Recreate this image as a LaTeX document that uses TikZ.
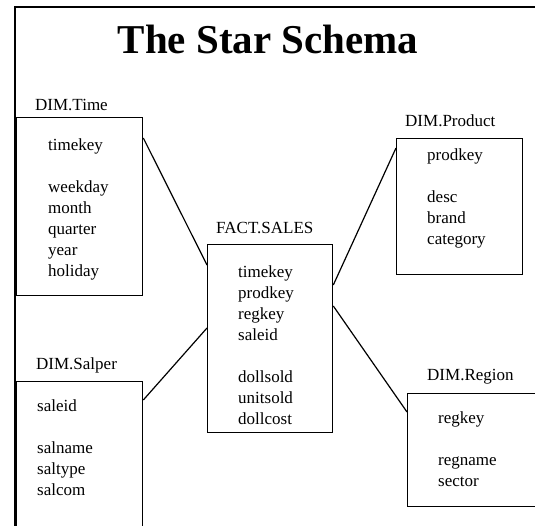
\documentclass[tikz,border=0pt]{standalone}
\usepackage{fontspec}
\setmainfont{Liberation Serif}
\usepackage{tikz}

\tikzset{
    tablebox/.style={draw, line width=1.3pt, anchor=north west, inner sep=0pt},
    fields/.style={anchor=base west, align=left, inner sep=0pt, font=\fontsize{17}{21}\selectfont},
    tablename/.style={anchor=base west, inner sep=0pt, font=\fontsize{17}{21}\selectfont}
}

\begin{document}
\begin{tikzpicture}[x=1pt, y=-1pt]
        \useasboundingbox (0,0) rectangle (535,525);
        \clip (0,0) rectangle (535,525);

        \draw[line width=2pt] (15,530) -- (15,7) -- (540,7);

        \node[anchor=base, inner sep=0pt, font=\fontsize{41}{45}\selectfont\bfseries] (title) at (268,53) {The Star Schema};

        \node[tablebox, minimum width=126pt, minimum height=178pt] (DIM_Time) at (16,117) {};
        \node[tablebox, minimum width=125pt, minimum height=188pt] (FACT_SALES) at (207,244) {};
        \node[tablebox, minimum width=126pt, minimum height=136pt] (DIM_Product) at (396,138) {};
        \node[tablebox, minimum width=160pt, minimum height=113pt] (DIM_Region) at (407,393) {};
        \node[tablebox, minimum width=126pt, minimum height=200pt] (DIM_Salper) at (16,381) {};

        \node[tablename] (DIM_Time_name) at ([xshift=19pt, yshift=7pt]DIM_Time.north west) {DIM.Time};
        \node[tablename] (FACT_SALES_name) at ([xshift=9pt, yshift=11pt]FACT_SALES.north west) {FACT.SALES};
        \node[tablename] (DIM_Product_name) at ([xshift=9pt, yshift=12pt]DIM_Product.north west) {DIM.Product};
        \node[tablename] (DIM_Region_name) at ([xshift=20pt, yshift=13pt]DIM_Region.north west) {DIM.Region};
        \node[tablename] (DIM_Salper_name) at ([xshift=20pt, yshift=12pt]DIM_Salper.north west) {DIM.Salper};

        \node[fields] (DIM_Time_fields) at ([xshift=32pt, yshift=-159pt]DIM_Time.north west)
            {timekey\\[21pt]weekday\\month\\quarter\\year\\holiday};
        \node[fields] (FACT_SALES_fields) at ([xshift=31pt, yshift=-180pt]FACT_SALES.north west)
            {timekey\\prodkey\\regkey\\saleid\\[21pt]dollsold\\unitsold\\dollcost};
        \node[fields] (DIM_Product_fields) at ([xshift=31pt, yshift=-106pt]DIM_Product.north west)
            {prodkey\\[21pt]desc\\brand\\category};
        \node[fields] (DIM_Region_fields) at ([xshift=31pt, yshift=-93pt]DIM_Region.north west)
            {regkey\\[21pt]regname\\sector};
        \node[fields] (DIM_Salper_fields) at ([xshift=21pt, yshift=-114pt]DIM_Salper.north west)
            {saleid\\[21pt]salname\\saltype\\salcom};

        \draw[line width=1.2pt] ([yshift=-21pt]DIM_Time.north east) -- ([yshift=-21pt]FACT_SALES.north west);
        \draw[line width=1.2pt] ([yshift=-41pt]FACT_SALES.north east) -- ([yshift=-10pt]DIM_Product.north west);
        \draw[line width=1.2pt] ([yshift=-62pt]FACT_SALES.north east) -- ([yshift=-19pt]DIM_Region.north west);
        \draw[line width=1.2pt] ([yshift=-19pt]DIM_Salper.north east) -- ([yshift=-84pt]FACT_SALES.north west);
    \end{tikzpicture}
\end{document}
